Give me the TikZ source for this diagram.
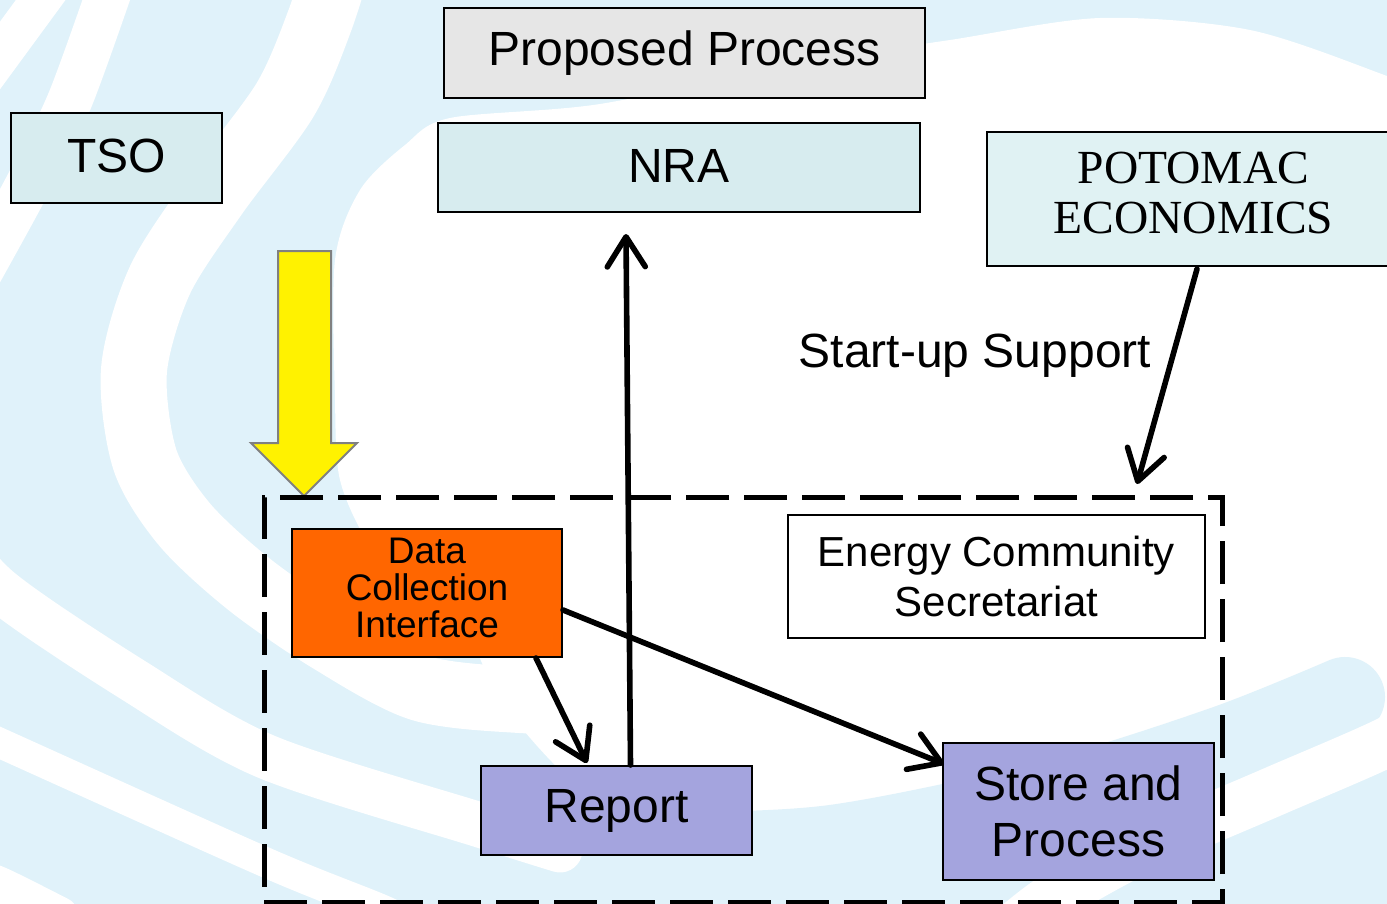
\documentclass[tikz,border=0pt]{standalone}
\usepackage{fontspec}
\setmainfont{Liberation Sans}
\newfontfamily\serifface{Liberation Serif}
\usetikzlibrary{arrows.meta,calc}
\definecolor{swirl}{RGB}{224,242,250}
\definecolor{tsofill}{RGB}{215,236,239}
\definecolor{potofill}{RGB}{224,242,243}
\definecolor{propfill}{RGB}{230,230,230}
\definecolor{dcifill}{RGB}{255,102,0}
\definecolor{repfill}{RGB}{164,164,222}
\definecolor{arrowgray}{RGB}{128,128,128}
\begin{document}
\begin{tikzpicture}[x=0.5pt,y=-0.5pt,
  box/.style={draw=black,line width=1pt,inner sep=0pt,align=center},
  big/.style={font=\fontsize{24pt}{28pt}\selectfont},
  conn/.style={line width=2.8pt,line cap=round,line join=round,
    -{Straight Barb[length=15pt,width=19pt,line cap=round,line join=round]}},
  stripe/.style={white,line cap=round},
  band/.style={swirl,line cap=round}
]
\useasboundingbox (0,0) rectangle (1387,904);
% ---------- background swirl ----------
\begin{scope}
\clip (0,0) rectangle (1387,904);
\fill[swirl] (0,0) rectangle (1387,904);
% inner white area of the swirl
\fill[white] plot[smooth cycle,tension=0.5] coordinates {
  (335,260) (360,190) (405,145) (450,118) (600,104) (800,63) (950,40)
  (1100,18) (1250,30) (1387,76) (1470,110) (1470,740) (1330,720)
  (1226,745) (1051,800) (832,843) (650,845) (560,770) (500,700)
  (470,640) (420,590) (370,545) (340,480) (335,400)};
% blue arm ending at the right
\draw[band,line width=40pt] plot[smooth] coordinates {(1345,697) (1226,745) (1051,800) (832,845) (650,852) (560,845)};
% white stripes
\draw[stripe,line width=33pt] plot[smooth] coordinates {(345,-60) (320,20) (285,100) (215,195) (160,280) (134,370) (145,460) (185,525) (250,585) (330,640) (420,688) (520,700) (600,700)};
\draw[stripe,line width=22.5pt] plot[smooth] coordinates {(-60,520) (0,590) (133,680) (267,757) (480,825) (560,850)};
\draw[stripe,line width=15pt] plot[smooth] coordinates {(-40,725) (0,743) (267,863) (383,910) (420,930)};
\draw[stripe,line width=18pt] plot[smooth] coordinates {(-30,875) (0,885) (60,915)};
\draw[stripe,line width=22.5pt] plot[smooth] coordinates {(120,-40) (70,100) (25,190) (-30,290)};
\draw[stripe,line width=20pt] plot[smooth] coordinates {(-40,110) (15,35) (70,-40)};
\draw[stripe,line width=25pt] plot[smooth] coordinates {(1460,700) (1387,742) (1270,793) (1139,850) (1050,900) (1000,940)};
\end{scope}
% ---------- boxes ----------
\node[box,fill=propfill,big,line width=1.2pt,minimum width=240.5pt,minimum height=45pt] (prop) at (684.5,53) {\raisebox{2pt}{Proposed Process}};
\node[box,fill=tsofill,big,minimum width=105.5pt,minimum height=45pt] (tso) at (116.5,158) {\raisebox{2.5pt}{TSO}};
\node[box,fill=tsofill,big,minimum width=241pt,minimum height=44.5pt] (nra) at (679,167.5) {\raisebox{2pt}{NRA}};
\node[box,fill=potofill,minimum width=206.5pt,minimum height=67pt,font=\serifface\fontsize{23.75pt}{25pt}\selectfont] (poto) at (1193.5,199) {\raisebox{3pt}{\begin{tabular}{@{}c@{}}POTOMAC\\ECONOMICS\end{tabular}}};
\node[font=\fontsize{24pt}{28pt}\selectfont,anchor=base] (startup) at (975,367) {Start-up Support};
% yellow block arrow
\draw[fill=yellow,draw=arrowgray,line width=1pt,line join=miter] (278,251) -- (331,251) -- (331,443) -- (357,443) -- (304,496) -- (251,443) -- (278,443) -- cycle;
% dashed area
\node[draw=black,line width=2.5pt,dash pattern=on 21.5pt off 7.5pt,inner sep=0pt,minimum width=479pt,minimum height=202.5pt] (area) at (743,699.5) {};
\node[box,fill=dcifill,minimum width=135pt,minimum height=64pt,font=\fontsize{18.5pt}{17.5pt}\selectfont] (dci) at (427,593) {\raisebox{1.5pt}{\begin{tabular}{@{}c@{}}Data\\Collection\\Interface\end{tabular}}};
\node[box,fill=white,minimum width=208.5pt,minimum height=61.5pt,font=\fontsize{21pt}{25pt}\selectfont] (ecs) at (996.5,576.5) {Energy Community\\Secretariat};
\node[box,fill=repfill,big,minimum width=135.5pt,minimum height=44.5pt] (rep) at (616.5,810.5) {Report};
\node[box,fill=repfill,minimum width=135.5pt,minimum height=68.5pt,font=\fontsize{24pt}{28pt}\selectfont] (store) at (1078.5,811.5) {Store and\\Process};
% ---------- connectors ----------
\coordinate (nratip) at (626,234);
\coordinate (areatip) at (1137,484);
\draw[conn] ($(rep.north)+(14,0)$) -- (nratip);
\draw[conn] ($(dci.south east)+(-27,0)$) -- ($(rep.north west)+(107,-2)$);
\draw[conn] ($(dci.east)+(0,17)$) -- ($(store.north west)+(2,22)$);
\draw[conn] ($(poto.south)+(3.5,2)$) -- (areatip);
\end{tikzpicture}
\end{document}
